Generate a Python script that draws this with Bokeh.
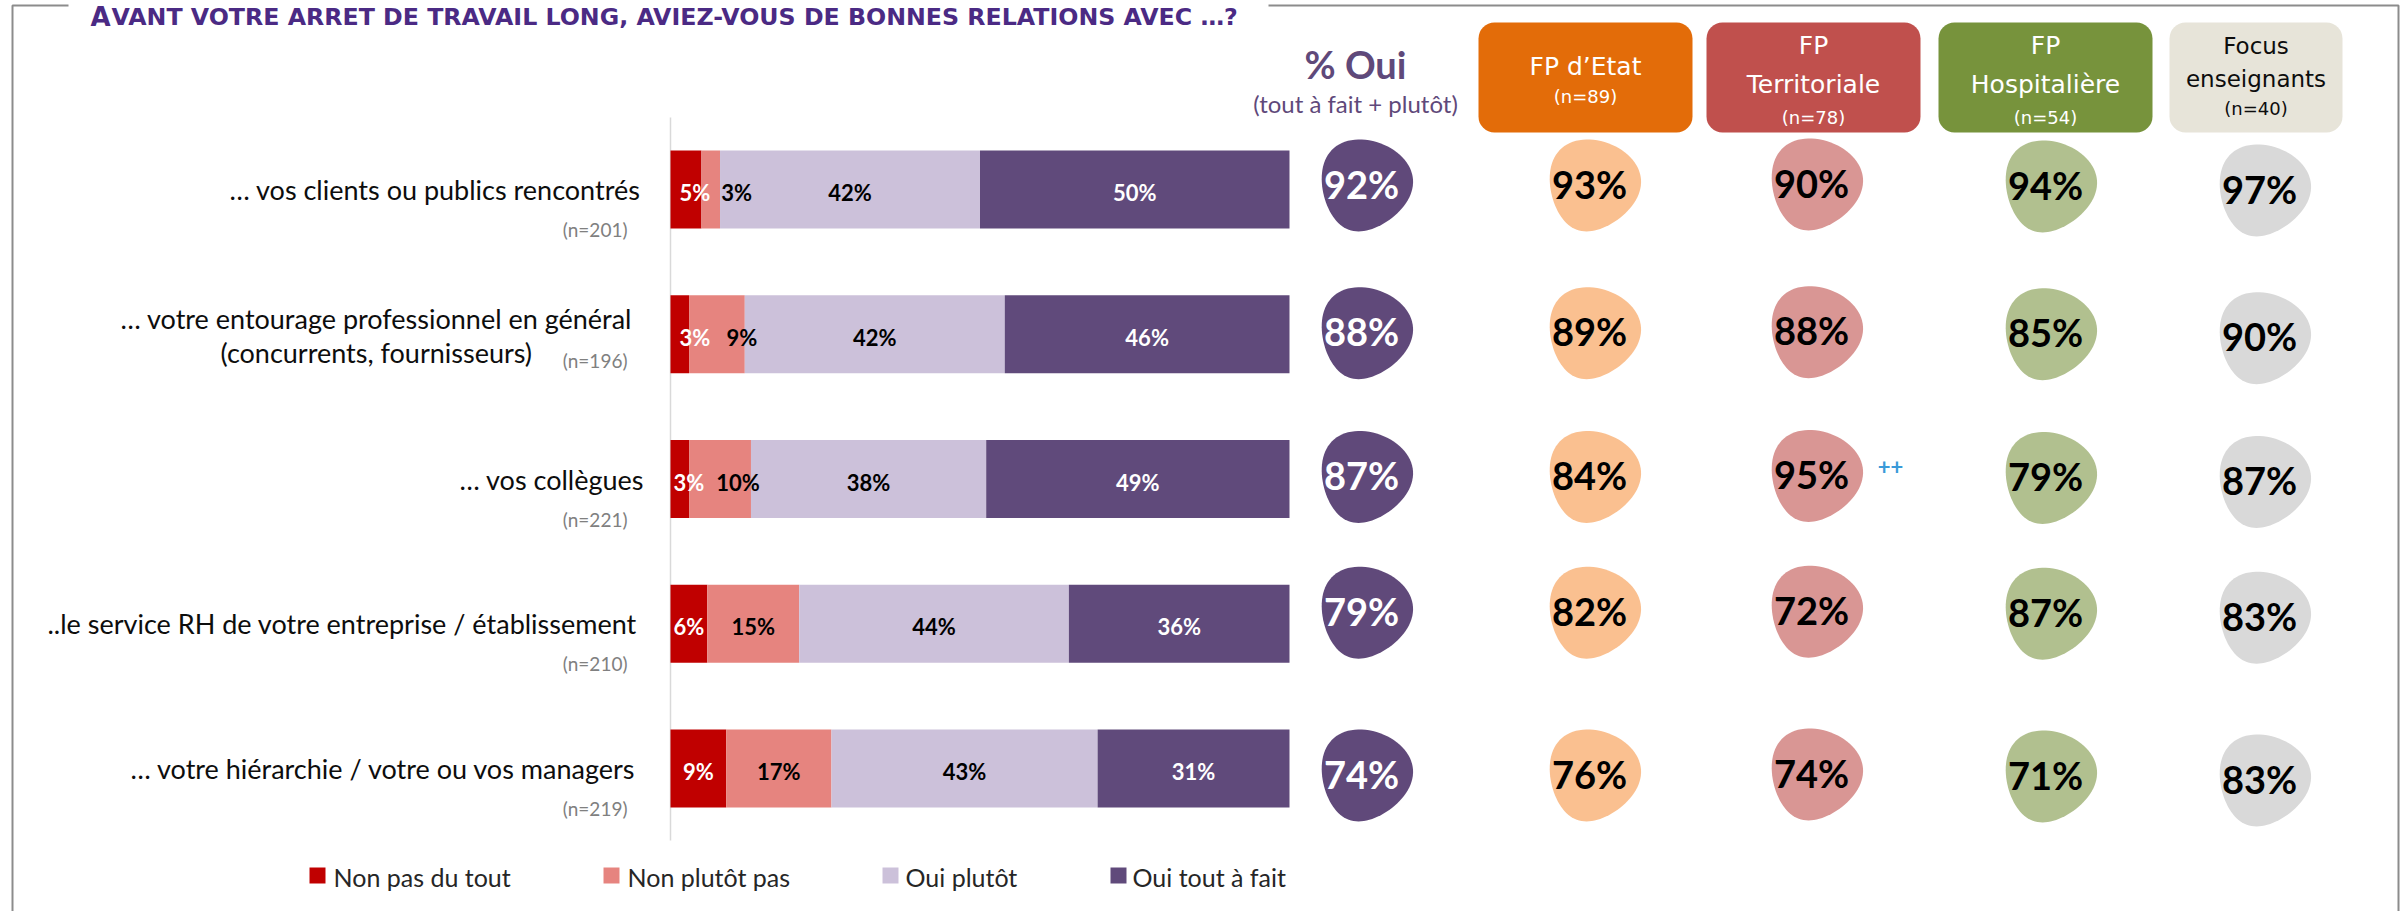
import numpy as np
from bokeh.plotting import figure
from bokeh.models import Range1d
from bokeh.core.properties import value
from bokeh.embed import file_html
from bokeh.resources import INLINE

# ---------------- data ----------------
title_first = "A"
title_rest = "VANT VOTRE ARRET DE TRAVAIL LONG, AVIEZ-VOUS DE BONNES RELATIONS AVEC …?"

items_line1 = ["… vos clients ou publics rencontrés",
               "… votre entourage professionnel en général",
               "… vos collègues",
               "..le service RH de votre entreprise / établissement",
               "… votre hiérarchie / votre ou vos managers"]
items_line2 = ["", "(concurrents, fournisseurs)", "", "", ""]
items_n = [201, 196, 221, 210, 219]

series_names = ["Non pas du tout", "Non plutôt pas", "Oui plutôt", "Oui tout à fait"]
non_pas_du_tout = [5, 3, 3, 6, 9]
non_plutot_pas = [3, 9, 10, 15, 17]
oui_plutot = [42, 42, 38, 44, 43]
oui_tout_a_fait = [50, 46, 49, 36, 31]

pct_oui = [92, 88, 87, 79, 74]
pct_oui_title = "% Oui"
pct_oui_sub = "(tout à fait + plutôt)"

group_lines = [["FP d’Etat"], ["FP", "Territoriale"], ["FP", "Hospitalière"], ["Focus", "enseignants"]]
group_n = [89, 78, 54, 40]
fp_etat = [93, 89, 84, 82, 76]
fp_territoriale = [90, 88, 95, 72, 74]
fp_hospitaliere = [94, 85, 79, 87, 71]
focus_enseignants = [97, 90, 87, 83, 83]
territoriale_signif = ["", "", "++", "", ""]

# ---------------- layout / style ----------------
W, H = 2407, 911
PX_PCT = 6.19                # pixels per percentage point
X0 = 670                     # pixel of 0 %
ROW_PX = 144.75              # pixels between rows
Y0 = 189                     # pixel of first row centre


def X(px):
    return (px - X0) / PX_PCT


def Y(py):
    return (py - Y0) / ROW_PX


def DX(px):
    return px / PX_PCT


def DY(py):
    return py / ROW_PX


FONT = value("Lato")
WIDE = value("DejaVu Sans")

seg_colors = ["#C00000", "#E6847F", "#CCC1DA", "#604A7B"]
seg_text_colors = ["white", "black", "black", "white"]

p = figure(width=W, height=H,
           x_range=Range1d(X(0), X(W)),
           y_range=Range1d(Y(H), Y(0)),
           x_axis_type=None, y_axis_type=None,
           toolbar_location=None, output_backend="svg",
           min_border=0, outline_line_color=None)
p.xgrid.visible = False
p.ygrid.visible = False

# frame
FRAME = "#8C8C8C"
p.line([X(68), X(12), X(12)], [Y(5), Y(5), Y(H + 5)], line_color=FRAME, line_width=2)
p.line([X(1268), X(2398), X(2398)], [Y(5), Y(5), Y(H + 5)], line_color=FRAME, line_width=2)

# title (small caps look)
TITLE_C = "#4B2A84"
p.text([X(90)], [Y(16)], text=[title_first], text_font=WIDE, text_font_style="bold",
       text_font_size="26px", text_color=TITLE_C, text_baseline="alphabetic", text_align="left")
p.text([X(111)], [Y(16)], text=[title_rest], text_font=WIDE, text_font_style="bold",
       text_font_size="23.7px", text_color=TITLE_C, text_baseline="alphabetic", text_align="left")

# vertical axis line
p.segment(x0=[0], y0=[Y(117)], x1=[0], y1=[Y(840)], line_color="#D9D9D9", line_width=1.5)

rows = np.arange(len(items_line1))
BAR_H = DY(78)

# stacked bars (labels drawn afterwards so they sit on top)
series = [non_pas_du_tout, non_plutot_pas, oui_plutot, oui_tout_a_fait]
totals = np.sum(np.array(series, dtype=float), axis=0)
left = np.zeros(len(rows))
label_nudge_px = {(0, 0): 9, (0, 1): 26, (1, 0): 15, (1, 1): 25, (2, 0): 9, (2, 1): 18}
label_jobs = []
for k, vals in enumerate(series):
    share = np.array(vals, dtype=float) * 100.0 / totals
    right = left + share
    p.hbar(y=rows, left=left, right=right, height=BAR_H,
           fill_color=seg_colors[k], line_color=None)
    cx = (left + right) / 2.0
    cx = [c + DX(label_nudge_px.get((i, k), 0)) for i, c in enumerate(cx)]
    label_jobs.append((cx, vals, seg_text_colors[k]))
    left = right
for cx, vals, tc in label_jobs:
    p.text(cx, rows + DY(3), text=[f"{v}%" for v in vals], text_font=FONT, text_font_style="bold",
           text_font_size="22px", text_color=tc, text_align="center", text_baseline="middle")

# item labels (left-anchored)
label_left_px = [229, 120, 459, 47, 130]
line2_left_px = 220
lab_y = [r + (DY(-16) if items_line2[r] else 0) for r in rows]
p.text([X(v) for v in label_left_px], lab_y, text=items_line1, text_font=FONT, text_font_size="27px",
       text_color="#0D0D0D", text_align="left", text_baseline="middle")
l2_rows = [r for r in rows if items_line2[r]]
p.text([X(line2_left_px)] * len(l2_rows), [r + DY(18) for r in l2_rows],
       text=[items_line2[r] for r in l2_rows], text_font=FONT, text_font_size="27px",
       text_color="#0D0D0D", text_align="left", text_baseline="middle")
n_y = [r + (DY(26) if items_line2[r] else DY(40)) for r in rows]
p.text([X(627)] * len(rows), n_y, text=[f"(n={n})" for n in items_n], text_font=FONT,
       text_font_size="19px", text_color="#808080", text_align="right", text_baseline="middle")

# % Oui header
PURPLE_T = "#5F497A"
p.text([X(1355)], [Y(63)], text=[pct_oui_title], text_font=FONT, text_font_style="bold",
       text_font_size="38px", text_color=PURPLE_T, text_align="center", text_baseline="middle")
p.text([X(1355)], [Y(103)], text=[pct_oui_sub], text_font=FONT, text_font_size="24px",
       text_color=PURPLE_T, text_align="center", text_baseline="middle")

# group header boxes
box_lr = [(1478, 1692), (1706, 1920), (1938, 2152), (2169, 2342)]
box_colors = ["#E36C09", "#C0504D", "#77933C", "#E7E4D9"]
box_text = ["white", "white", "white", "#0D0D0D"]
p.quad(left=[X(a) for a, b in box_lr], right=[X(b) for a, b in box_lr],
       top=[Y(22)] * 4, bottom=[Y(132)] * 4, fill_color=box_colors, line_color=None,
       border_radius=16)
for g, lines in enumerate(group_lines):
    cx = X((box_lr[g][0] + box_lr[g][1]) / 2)
    if len(lines) == 1:
        ys, sizes = [66, 96], ["25px", "18px"]
    elif g < 3:
        ys, sizes = [45, 84, 117], ["25px", "25px", "18px"]
    else:
        ys, sizes = [45, 78, 108], ["23px", "23px", "18px"]
    texts = lines + [f"(n={group_n[g]})"]
    for t, yy, fs in zip(texts, ys, sizes):
        p.text([cx], [Y(yy)], text=[t], text_font=WIDE, text_font_size=fs,
               text_color=box_text[g], text_align="center", text_baseline="middle")


# blobs
def egg(a=46, b=45, k=0.22, theta=70, n=90):
    t = np.linspace(0, 2 * np.pi, n, endpoint=False)
    u = a * np.cos(t)
    v = b * np.sin(t) * (1 + k * np.cos(t))
    th = np.radians(theta)
    ux, uy = np.cos(th), -np.sin(th)
    nx, ny = np.sin(th), np.cos(th)
    return u * ux + v * nx, u * uy + v * ny


blob_cols = [(pct_oui, 1364, "#60497A", "white"),
             (fp_etat, 1592, "#FAC090", "black"),
             (fp_territoriale, 1814, "#D99694", "black"),
             (fp_hospitaliere, 2048, "#B1C08F", "black"),
             (focus_enseignants, 2262, "#D9D9D9", "black")]
blob_row_dy = [-3, 0, -1, -10, 8]
blob_col_dy = [0, 0, -1, 1, 5]
ex, ey = egg()
for c, (vals, cxp, fc, tc) in enumerate(blob_cols):
    xs, ys, tx, ty = [], [], [], []
    for r in rows:
        cy = r + DY(blob_row_dy[r] + blob_col_dy[c])
        xs.append(list(X(cxp) + DX(ex)))
        ys.append(list(cy + DY(ey)))
        tx.append(X(cxp - 3))
        ty.append(cy + DY(-3))
    p.patches(xs, ys, fill_color=fc, line_color=None)
    p.text(tx, ty, text=[f"{v}%" for v in vals], text_font=FONT, text_font_style="bold",
           text_font_size="38px", text_color=tc, text_align="center", text_baseline="middle")

# significance marker
sig_rows = [r for r in rows if territoriale_signif[r]]
p.text([X(1890)] * len(sig_rows), [r + DY(-13) for r in sig_rows],
       text=[territoriale_signif[r] for r in sig_rows], text_font=FONT, text_font_style="bold",
       text_font_size="22px", text_color="#3A9AD9", text_align="center", text_baseline="middle")

# legend
leg_sq = [317, 611, 890, 1118]
leg_tx = [333, 627, 905, 1132]
p.rect(x=[X(v) for v in leg_sq], y=[Y(875)] * 4, width=16, height=16, width_units="screen",
       height_units="screen", fill_color=seg_colors, line_color=None)
p.text([X(v) for v in leg_tx], [Y(876)] * 4, text=series_names, text_font=FONT,
       text_font_size="25px", text_color="#262626", text_align="left", text_baseline="middle")

open("out.html", "w").write(file_html(p, INLINE))
